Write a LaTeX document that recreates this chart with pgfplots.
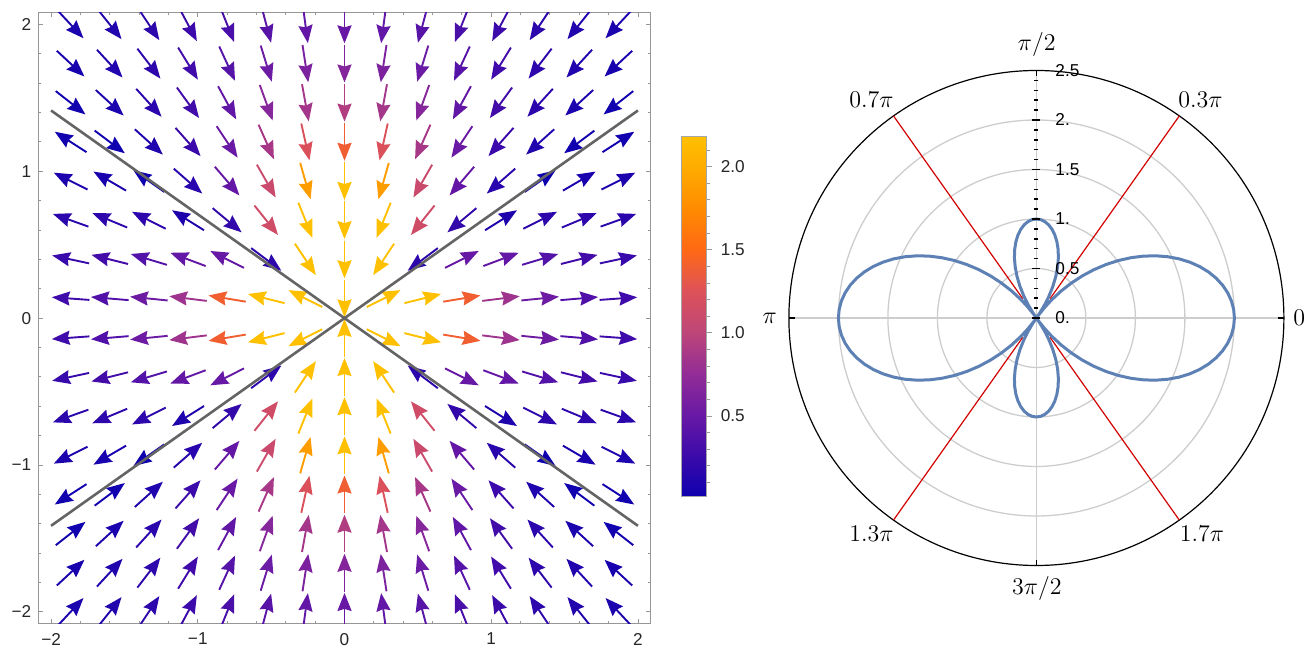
\documentclass[border=0pt]{standalone}
\usepackage{fontspec}
\newfontfamily\sansf{Liberation Sans}
\usepackage{pgfplots}
\usepackage{pgfplotstable}
\pgfplotsset{compat=1.18}
\usepgfplotslibrary{polar}
\usetikzlibrary{arrows.meta}

\definecolor{mmablue}{RGB}{94,129,181}
\definecolor{linegray}{RGB}{100,100,100}
\definecolor{framegray}{RGB}{150,150,150}
\definecolor{gridgray}{RGB}{205,205,205}
\definecolor{mmared}{RGB}{210,0,0}
\newcommand{\tfont}{\sansf\fontsize{8.6}{10}\selectfont}
\newcommand{\afont}{\fontsize{12.5}{14}\selectfont}

\pgfplotsset{colormap={mma}{rgb255(0pt)=(15,0,175); rgb255(25pt)=(60,10,170); rgb255(50pt)=(105,25,165); rgb255(75pt)=(148,45,150); rgb255(100pt)=(190,70,120); rgb255(125pt)=(222,82,88); rgb255(150pt)=(255,105,20); rgb255(175pt)=(255,140,0); rgb255(200pt)=(255,172,0); rgb255(218pt)=(255,192,0)}}

% first-quadrant samples of the vector field: centre x y, arrow u v, magnitude c
\pgfplotstableread{
x y u v c
0 0.13333 0 -0.245 2.18
0.26667 0.13333 0.2191 0.1096 2.18
0.53333 0.13333 0.2377 0.0594 2.18
0.8 0.13333 0.2417 0.0403 1.397
1.06667 0.13333 0.2431 0.0304 0.8254
1.33333 0.13333 0.2438 0.0244 0.5404
1.6 0.13333 0.2442 0.0203 0.3799
1.86667 0.13333 0.2444 0.0175 0.2812
0 0.4 0 -0.245 2.18
0.26667 0.4 -0.1359 -0.2038 2.18
0.53333 0.4 -0.196 -0.147 0.18
0.8 0.4 0.2191 0.1096 0.5
1.06667 0.4 0.2294 0.0860 0.4856
1.33333 0.4 0.2347 0.0704 0.3882
1.6 0.4 0.2377 0.0594 0.3028
1.86667 0.4 0.2396 0.0513 0.2383
0 0.66667 0 -0.245 2.18
0.26667 0.66667 -0.0910 -0.2275 2.18
0.53333 0.66667 -0.1531 -0.1913 1.1377
0.8 0.66667 -0.1882 -0.1568 0.2116
1.06667 0.66667 0.2078 0.1298 0.0994
1.33333 0.66667 0.2191 0.1096 0.18
1.6 0.66667 0.2262 0.0942 0.1851
1.86667 0.66667 0.2307 0.0824 0.1681
0 0.93333 0 -0.245 2.18
0.26667 0.93333 -0.0673 -0.2356 1.882
0.53333 0.93333 -0.1216 -0.2127 1.0917
0.8 0.93333 -0.1594 -0.1860 0.4827
1.06667 0.93333 -0.1844 -0.1613 0.1498
1.33333 0.93333 0.2007 0.1405 0.014
1.6 0.93333 0.2116 0.1234 0.0695
1.86667 0.93333 0.2191 0.1096 0.0918
0 1.2 0 -0.245 1.389
0.26667 1.2 -0.0531 -0.2392 1.2301
0.53333 1.2 -0.0995 -0.2239 0.8728
0.8 1.2 -0.1359 -0.2039 0.5178
1.06667 1.2 -0.1628 -0.1831 0.2622
1.33333 1.2 -0.1821 -0.1639 0.1065
1.6 1.2 -0.196 -0.147 0.02
1.86667 1.2 0.2061 0.1325 0.0249
0 1.46667 0 -0.245 0.9298
0.26667 1.46667 -0.0438 -0.2410 0.8568
0.53333 1.46667 -0.0837 -0.2302 0.6773
0.8 1.46667 -0.1173 -0.2151 0.4701
1.06667 1.46667 -0.1441 -0.1981 0.2926
1.33333 1.46667 -0.1648 -0.1813 0.1635
1.6 1.46667 -0.1806 -0.1656 0.0785
1.86667 1.46667 -0.1926 -0.1514 0.0257
0 1.73333 0 -0.245 0.6657
0.26667 1.73333 -0.0373 -0.2421 0.6277
0.53333 1.73333 -0.0721 -0.2342 0.5292
0.8 1.73333 -0.1027 -0.2225 0.4042
1.06667 1.73333 -0.1284 -0.2087 0.2839
1.33333 1.73333 -0.1494 -0.1942 0.185
1.6 1.73333 -0.1662 -0.1800 0.1114
1.86667 1.73333 -0.1795 -0.1667 0.06
0 2 0 -0.245 0.5
0.26667 2 -0.0324 -0.2428 0.4784
0.53333 2 -0.0631 -0.2367 0.4203
0.8 2 -0.0910 -0.2275 0.3419
1.06667 2 -0.1153 -0.2162 0.26
1.33333 2 -0.1359 -0.2038 0.1864
1.6 2 -0.1531 -0.1913 0.1264
1.86667 2 -0.1672 -0.1791 0.0806
}\quadtab

% polar curve: angle (deg), radius
\pgfplotstableread{
t r
0 2.0
2.5 1.99429
5 1.9772
7.5 1.94889
10 1.9095
12.5 1.85946
15 1.7990
17.5 1.72873
20 1.6491
22.5 1.56066
25 1.4642
27.5 1.36036
30 1.25
32.5 1.13393
35 1.0130
37.5 0.88823
40 0.7605
42.5 0.63073
45 0.5
47.5 0.36927
50 0.2395
52 0.1371
54 0.0365
54.7356 0
56 0.0619
58 0.1576
60 0.25
62.5 0.36036
65 0.4642
67.5 0.56066
70 0.6491
72.5 0.72873
75 0.7990
77.5 0.85946
80 0.9095
82.5 0.94889
85 0.9772
87.5 0.99429
90 1.0
92.5 0.99429
95 0.9772
97.5 0.94889
100 0.9095
102.5 0.85946
105 0.7990
107.5 0.72873
110 0.6491
112.5 0.56066
115 0.4642
117.5 0.36036
120 0.25
122 0.1576
124 0.0619
125.2644 0
126 0.0365
128 0.1371
130 0.2395
132.5 0.36927
135 0.5
137.5 0.63073
140 0.7605
142.5 0.88823
145 1.0130
147.5 1.13393
150 1.25
152.5 1.36036
155 1.4642
157.5 1.56066
160 1.6491
162.5 1.72873
165 1.7990
167.5 1.85946
170 1.9095
172.5 1.94889
175 1.9772
177.5 1.99429
180 2.0
182.5 1.99429
185 1.9772
187.5 1.94889
190 1.9095
192.5 1.85946
195 1.7990
197.5 1.72873
200 1.6491
202.5 1.56066
205 1.4642
207.5 1.36036
210 1.25
212.5 1.13393
215 1.0130
217.5 0.88823
220 0.7605
222.5 0.63073
225 0.5
227.5 0.36927
230 0.2395
232 0.1371
234 0.0365
234.7356 0
236 0.0619
238 0.1576
240 0.25
242.5 0.36036
245 0.4642
247.5 0.56066
250 0.6491
252.5 0.72873
255 0.7990
257.5 0.85946
260 0.9095
262.5 0.94889
265 0.9772
267.5 0.99429
270 1.0
272.5 0.99429
275 0.9772
277.5 0.94889
280 0.9095
282.5 0.85946
285 0.7990
287.5 0.72873
290 0.6491
292.5 0.56066
295 0.4642
297.5 0.36036
300 0.25
302 0.1576
304 0.0619
305.2644 0
306 0.0365
308 0.1371
310 0.2395
312.5 0.36927
315 0.5
317.5 0.63073
320 0.7605
322.5 0.88823
325 1.0130
327.5 1.13393
330 1.25
332.5 1.36036
335 1.4642
337.5 1.56066
340 1.6491
342.5 1.72873
345 1.7990
347.5 1.85946
350 1.9095
352.5 1.94889
355 1.9772
357.5 1.99429
360 2.0
}\curvetab

\tikzset{quivarrow/.style={line width=0.95pt, -{Stealth[length=9pt,width=7pt,inset=1pt]}}}
\pgfplotsset{quivstyle/.style={quivarrow, point meta=\thisrow{c}}}

\begin{document}
\begin{tikzpicture}
\useasboundingbox (0,0) rectangle (653pt,323.5pt);

% ---------------- vector field ----------------
\begin{axis}[
  at={(19.15pt,11.5pt)}, anchor=south west,
  scale only axis, width=306.2pt, height=305.85pt,
  xmin=-2.087, xmax=2.087, ymin=-2.083, ymax=2.083,
  xtick={-2,-1,0,1,2}, ytick={-2,-1,0,1,2},
  xticklabels={−2,−1,0,1,2}, yticklabels={−2,−1,0,1,2},
  minor x tick num=4, minor y tick num=4,
  tick align=inside, major tick length=2.5pt, minor tick length=1.5pt,
  tick style={framegray, line width=0.45pt},
  axis line style={framegray, line width=0.5pt},
  tick label style={font=\tfont, text=black!85},
  xticklabel style={yshift=-1pt},
  colormap name=mma,
  point meta min=0.014, point meta max=2.18,
  colorbar,
  colorbar style={
    at={(parent axis.north east)}, anchor=north west,
    xshift=7pt, yshift=-62.2pt,
    scale only axis, width=12.5pt, height=180pt,
    ytick={0.5,1,1.5,2}, yticklabels={0.5,1.0,1.5,2.0},
    minor ytick={0.1,0.2,0.3,0.4,0.6,0.7,0.8,0.9,1.1,1.2,1.3,1.4,1.6,1.7,1.8,1.9,2.1},
    ytick pos=right, yticklabel pos=right,
    tick align=outside, major tick length=2.5pt, minor tick length=1.4pt,
    tick style={black!40, line width=0.4pt},
    axis line style={black!35, line width=0.4pt},
    yticklabel style={font=\tfont, text=black!85, xshift=1pt},
  },
]
\addplot[quivstyle, quiver={u=\thisrow{u}, v=\thisrow{v}, scale arrows=1.05, colored=mapped color, every arrow/.append style={quivarrow}}]
  table[x expr=\thisrow{x}-0.525*\thisrow{u}, y expr=\thisrow{y}-0.525*\thisrow{v}] {\quadtab};
\addplot[quivstyle, quiver={u=\thisrow{u}, v={-\thisrow{v}}, scale arrows=1.05, colored=mapped color, every arrow/.append style={quivarrow}}]
  table[x expr=\thisrow{x}-0.525*\thisrow{u}, y expr=-\thisrow{y}+0.525*\thisrow{v}] {\quadtab};
\addplot[quivstyle, restrict x to domain=-3:-0.01, quiver={u={-\thisrow{u}}, v=\thisrow{v}, scale arrows=1.05, colored=mapped color, every arrow/.append style={quivarrow}}]
  table[x expr=-\thisrow{x}+0.525*\thisrow{u}, y expr=\thisrow{y}-0.525*\thisrow{v}] {\quadtab};
\addplot[quivstyle, restrict x to domain=-3:-0.01, quiver={u={-\thisrow{u}}, v={-\thisrow{v}}, scale arrows=1.05, colored=mapped color, every arrow/.append style={quivarrow}}]
  table[x expr=-\thisrow{x}+0.525*\thisrow{u}, y expr=-\thisrow{y}+0.525*\thisrow{v}] {\quadtab};
\addplot[linegray, line width=1.3pt] coordinates {(-2,-1.41421) (2,1.41421)};
\addplot[linegray, line width=1.3pt] coordinates {(-2,1.41421) (2,-1.41421)};
\end{axis}

% ---------------- polar plot ----------------
\begin{polaraxis}[
  at={(518.2pt,164.5pt)}, anchor=center,
  scale only axis, width=247.5pt, height=247.5pt,
  xmin=0, xmax=360, ymin=0, ymax=2.5,
  xtick={0,90,180,270}, xticklabels={},
  ytick={0.5,1,1.5,2}, yticklabels={},
  xmajorgrids, ymajorgrids,
  major grid style={draw=gridgray, line width=0.65pt},
  axis line style={black, line width=0.6pt},
  y axis line style={draw=none},
  tick align=outside, major tick length=2.8pt,
  xtick style={black, line width=0.6pt},
  ytick style={draw=none},
]
\addplot[mmared, line width=0.6pt] coordinates {(54.7356,0.24) (54.7356,2.5)};
\addplot[mmared, line width=0.6pt] coordinates {(125.2644,0.24) (125.2644,2.5)};
\addplot[mmared, line width=0.6pt] coordinates {(234.7356,0.24) (234.7356,2.5)};
\addplot[mmared, line width=0.6pt] coordinates {(305.2644,0.24) (305.2644,2.5)};
\addplot[mmablue, line width=1.5pt, line join=round, line cap=round] table[x=t, y=r] {\curvetab};
\end{polaraxis}

% radial axis along pi/2
\begin{axis}[
  at={(518.2pt,164.5pt)}, anchor=south east,
  scale only axis, width=1pt, height=123.75pt,
  xmin=0, xmax=1, ymin=0, ymax=2.5,
  axis x line=none, axis y line*=right,
  y axis line style={draw=none},
  ytick={0,0.5,1,1.5,2,2.5}, yticklabels={0.,0.5,1.,1.5,2.,2.5},
  minor y tick num=4,
  tick align=center, major tick length=4pt, minor tick length=2pt,
  ytick style={black, line width=0.75pt},
  yticklabel style={font=\tfont, text=black, anchor=west, xshift=4pt},
]
\end{axis}

% angular labels
\node[font=\afont] at (518.4pt,301pt) {$\pi/2$};
\node[font=\afont] at (600.25pt,273.5pt) {$0.3\pi$};
\node[font=\afont] at (435.7pt,273.5pt) {$0.7\pi$};
\node[font=\afont] at (384.85pt,164.5pt) {$\pi$};
\node[font=\afont] at (649.6pt,164.5pt) {$0$};
\node[font=\afont] at (435.7pt,56.85pt) {$1.3\pi$};
\node[font=\afont] at (601pt,56.85pt) {$1.7\pi$};
\node[font=\afont] at (518.4pt,29.35pt) {$3\pi/2$};
\end{tikzpicture}
\end{document}
